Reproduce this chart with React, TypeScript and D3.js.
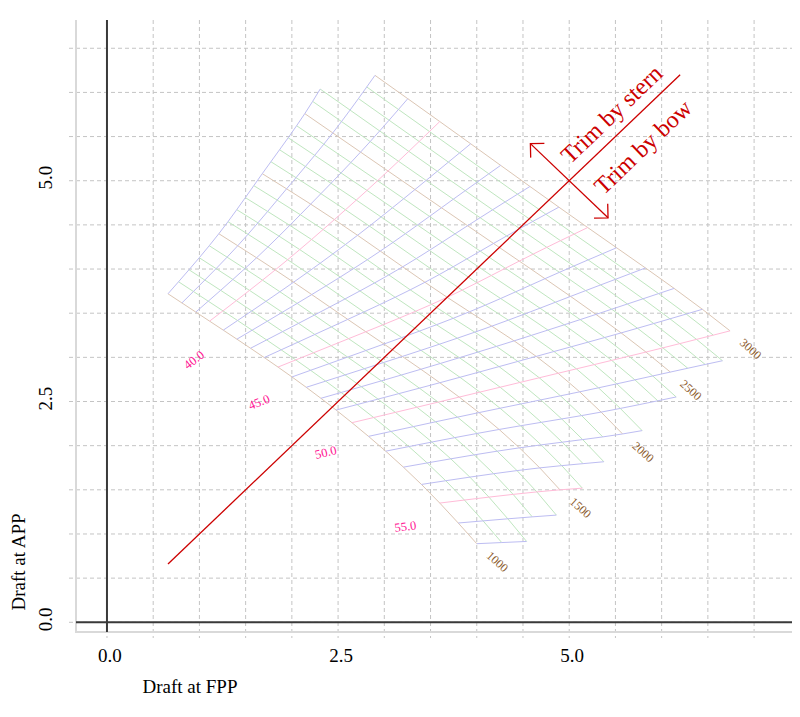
import React from 'react';
import * as d3 from 'd3';

const W = 800;
const H = 717;

// axes
const xDomain = [-0.335, 7.41];
const yDomain = [-0.11, 6.82];
const xTickValues = [0, 2.5, 5.0];
const yTickValues = [0, 2.5, 5.0];
const xGridValues = [0, 0.5, 1, 1.5, 2, 2.5, 3, 3.5, 4, 4.5, 5, 5.5, 6, 6.5, 7];
const yGridValues = [0, 0.5, 1, 1.5, 2, 2.5, 3, 3.5, 4, 4.5, 5, 5.5, 6, 6.5];

// trim diagram nodes (draft at FPP / draft at APP) read at major displacement × LCB values
const dispRows = [1000, 1500, 2000, 2500, 3000];
const lcbCols = [37, 40, 45, 50, 55, 57];
const draftFwdTable = [
  [0.66, 1.11, 1.85, 2.65, 3.6, 4.0],
  [1.21, 1.82, 2.8, 3.81, 4.9, 5.33],
  [1.68, 2.46, 3.68, 4.88, 6.05, 6.54],
  [2.14, 3.04, 4.46, 5.83, 7.11, 7.6],
  [2.54, 3.6, 5.2, 6.74, 8.12, 8.63],
];
const draftAftTable = [
  [3.72, 3.41, 2.89, 2.26, 1.35, 0.89],
  [4.4, 3.99, 3.29, 2.55, 1.5, 0.95],
  [5.08, 4.56, 3.68, 2.82, 1.59, 1.0],
  [5.76, 5.11, 4.09, 3.06, 1.75, 1.07],
  [6.46, 5.67, 4.47, 3.3, 1.86, 1.14],
];

// contour levels
const dispLevels = [1000, 1100, 1200, 1300, 1400, 1500, 1600, 1700, 1800, 1900, 2000, 2100, 2200, 2300, 2400, 2500, 2600, 2700, 2800, 2900, 3000];
const lcbLevels = [37, 38, 39, 40, 41, 42, 43, 44, 45, 46, 47, 48, 49, 50, 51, 52, 53, 54, 55, 56, 57];
// highest displacement reached by each LCB line
const lcbMaxDisp = [2700, 3000, 3000, 3000, 3000, 3000, 3000, 3000, 3000, 3000, 3000, 3000, 3000, 3000, 2800, 2400, 2100, 1800, 1600, 1400, 1200];
const dispLabels = [1000, 1500, 2000, 2500, 3000];
const lcbLabels = [40, 45, 50, 55];
const lcbLabelFwd = [0.95, 1.65, 2.37, 3.23];
const lcbLabelAft = [2.96, 2.48, 1.91, 1.07];

// even keel line and trim annotation
const evenKeel = [0.66, 6.2];
const trimArrowFwd = [4.58, 5.42];
const trimArrowAft = [5.42, 4.58];
const sternTextPos = [5.01, 5.18];
const bowTextPos = [5.37, 4.83];

function naturalSpline(xs: number[], ys: number[]) {
  const n = xs.length;
  const h: number[] = [];
  for (let i = 0; i < n - 1; i++) h.push(xs[i + 1] - xs[i]);
  const M = new Array(n).fill(0);
  const a: number[] = [], b: number[] = [], c: number[] = [], r: number[] = [];
  for (let i = 1; i < n - 1; i++) {
    a.push(h[i - 1]);
    b.push(2 * (h[i - 1] + h[i]));
    c.push(h[i]);
    r.push(6 * ((ys[i + 1] - ys[i]) / h[i] - (ys[i] - ys[i - 1]) / h[i - 1]));
  }
  const m = r.length;
  for (let i = 1; i < m; i++) {
    const w = a[i] / b[i - 1];
    b[i] -= w * c[i - 1];
    r[i] -= w * r[i - 1];
  }
  const sol = new Array(m).fill(0);
  for (let i = m - 1; i >= 0; i--) {
    sol[i] = (r[i] - (i < m - 1 ? c[i] * sol[i + 1] : 0)) / b[i];
  }
  for (let i = 0; i < m; i++) M[i + 1] = sol[i];
  return (x: number) => {
    let i = 0;
    while (i < n - 2 && x > xs[i + 1]) i++;
    const hi = h[i];
    const A = xs[i + 1] - x;
    const B = x - xs[i];
    return (
      (M[i] * A * A * A) / (6 * hi) +
      (M[i + 1] * B * B * B) / (6 * hi) +
      (ys[i] / hi - (M[i] * hi) / 6) * A +
      (ys[i + 1] / hi - (M[i + 1] * hi) / 6) * B
    );
  };
}

const rowFwd = draftFwdTable.map((row) => naturalSpline(lcbCols, row));
const rowAft = draftAftTable.map((row) => naturalSpline(lcbCols, row));

function node(disp: number, lcb: number): [number, number] {
  const f = naturalSpline(dispRows, rowFwd.map((s) => s(lcb)))(disp);
  const a = naturalSpline(dispRows, rowAft.map((s) => s(lcb)))(disp);
  return [f, a];
}

const SERIF = '"Liberation Serif", "Times New Roman", Times, serif';

export default function App() {
  const x = d3.scaleLinear().domain(xDomain).range([76, 792]);
  const y = d3.scaleLinear().domain(yDomain).range([632, 20]);
  const line = d3
    .line<[number, number]>()
    .x((d) => x(d[0]))
    .y((d) => y(d[1]));

  const lcbValid = (lcb: number, disp: number) => disp <= lcbMaxDisp[lcbLevels.indexOf(lcb)];

  // displacement lines
  const dispPaths = dispLevels.map((D) => {
    const ls = lcbLevels.filter((l) => lcbValid(l, D));
    const pts = ls.map((l) => node(D, l));
    return { D, pts, major: D % 500 === 0 };
  });
  // LCB lines
  const lcbPaths = lcbLevels.map((l, i) => {
    const ds = dispLevels.filter((D) => D <= lcbMaxDisp[i]);
    const pts = ds.map((D) => node(D, l));
    return { l, pts, major: l % 5 === 0 };
  });

  const ax0 = x(trimArrowFwd[0]);
  const ay0 = y(trimArrowFwd[1]);
  const ax1 = x(trimArrowAft[0]);
  const ay1 = y(trimArrowAft[1]);
  const arrowHead = (tx: number, ty: number, fx: number, fy: number) => {
    const ang = Math.atan2(ty - fy, tx - fx);
    const len = 14;
    const p1 = [tx - len * Math.cos(ang - Math.PI / 4), ty - len * Math.sin(ang - Math.PI / 4)];
    const p2 = [tx - len * Math.cos(ang + Math.PI / 4), ty - len * Math.sin(ang + Math.PI / 4)];
    return `M${p1[0]},${p1[1]}L${tx},${ty}L${p2[0]},${p2[1]}`;
  };
  const keelAngle = (Math.atan2(y(1) - y(0), x(1) - x(0)) * 180) / Math.PI;

  return (
    <svg width={W} height={H} style={{ position: 'absolute', left: 0, top: 0, background: '#fff' }}>
      {/* grid */}
      <g stroke="#c4c4c4" strokeWidth={1} strokeDasharray="4,3">
        {xGridValues.map((v) => (
          <line key={'gx' + v} x1={x(v)} x2={x(v)} y1={20} y2={638} />
        ))}
        {yGridValues.map((v) => (
          <line key={'gy' + v} x1={69} x2={792} y1={y(v)} y2={y(v)} />
        ))}
      </g>
      {/* frame */}
      <line x1={76} x2={76} y1={20} y2={633} stroke="#d9d9d9" strokeWidth={2} />
      <line x1={76} x2={792} y1={632} y2={632} stroke="#d9d9d9" strokeWidth={2} />
      {/* zero axes */}
      <line x1={x(0)} x2={x(0)} y1={20} y2={632} stroke="#3a3a3a" strokeWidth={2} />
      <line x1={76} x2={792} y1={y(0)} y2={y(0)} stroke="#3a3a3a" strokeWidth={2} />

      {/* mesh */}
      <g fill="none" strokeWidth={1}>
        {dispPaths.map((p) => (
          <path key={'d' + p.D} d={line(p.pts) || ''} stroke={p.major ? '#dcc6b4' : '#bfe6bf'} />
        ))}
        {lcbPaths.map((p) => (
          <path key={'l' + p.l} d={line(p.pts) || ''} stroke={p.major ? '#ffbcd8' : '#bdbdf2'} />
        ))}
      </g>

      {/* displacement labels */}
      {dispLabels.map((D) => {
        const p = dispPaths.find((q) => q.D === D)!;
        const end = p.pts[p.pts.length - 1];
        const px = x(end[0]) + 9;
        const py = y(end[1]) + 13;
        return (
          <text
            key={'dl' + D}
            transform={`translate(${px},${py}) rotate(42)`}
            fontFamily={SERIF}
            fontSize={12}
            fill="#8b5a2b"
          >
            {D}
          </text>
        );
      })}
      {/* LCB labels */}
      {lcbLabels.map((l, i) => {
        const p0 = node(1000, l);
        const p1 = node(1100, l);
        const ang = (Math.atan2(y(p1[1]) - y(p0[1]), x(p1[0]) - x(p0[0])) * 180) / Math.PI;
        return (
          <text
            key={'ll' + l}
            transform={`translate(${x(lcbLabelFwd[i])},${y(lcbLabelAft[i])}) rotate(${ang})`}
            fontFamily={SERIF}
            fontSize={12.5}
            fill="#ff1493"
            textAnchor="middle"
            dominantBaseline="middle"
          >
            {l.toFixed(1)}
          </text>
        );
      })}

      {/* even keel line */}
      <line
        x1={x(evenKeel[0])}
        y1={y(evenKeel[0])}
        x2={x(evenKeel[1])}
        y2={y(evenKeel[1])}
        stroke="#cc0000"
        strokeWidth={1.3}
      />
      {/* trim arrows */}
      <g stroke="#cc0000" strokeWidth={1.3} fill="none">
        <line x1={ax0} y1={ay0} x2={ax1} y2={ay1} />
        <path d={arrowHead(ax0, ay0, ax1, ay1)} />
        <path d={arrowHead(ax1, ay1, ax0, ay0)} />
      </g>
      <text
        transform={`translate(${x(sternTextPos[0])},${y(sternTextPos[1])}) rotate(${keelAngle})`}
        fontFamily={SERIF}
        fontSize={24}
        fill="#cc0000"
      >
        Trim by stern
      </text>
      <text
        transform={`translate(${x(bowTextPos[0])},${y(bowTextPos[1])}) rotate(${keelAngle})`}
        fontFamily={SERIF}
        fontSize={24}
        fill="#cc0000"
      >
        Trim by bow
      </text>

      {/* tick labels */}
      {xTickValues.map((v) => (
        <text key={'xt' + v} x={x(v) + 3} y={662} textAnchor="middle" fontFamily={SERIF} fontSize={19} fill="#000">
          {v.toFixed(1)}
        </text>
      ))}
      {yTickValues.map((v) => (
        <text
          key={'yt' + v}
          transform={`translate(52,${y(v) - 3}) rotate(-90)`}
          textAnchor="middle"
          fontFamily={SERIF}
          fontSize={19}
          fill="#000"
        >
          {v.toFixed(1)}
        </text>
      ))}
      <text x={190} y={693} textAnchor="middle" fontFamily={SERIF} fontSize={19} fill="#000">
        Draft at FPP
      </text>
      <text transform="translate(25,562) rotate(-90)" textAnchor="middle" fontFamily={SERIF} fontSize={19} fill="#000">
        Draft at APP
      </text>
    </svg>
  );
}
